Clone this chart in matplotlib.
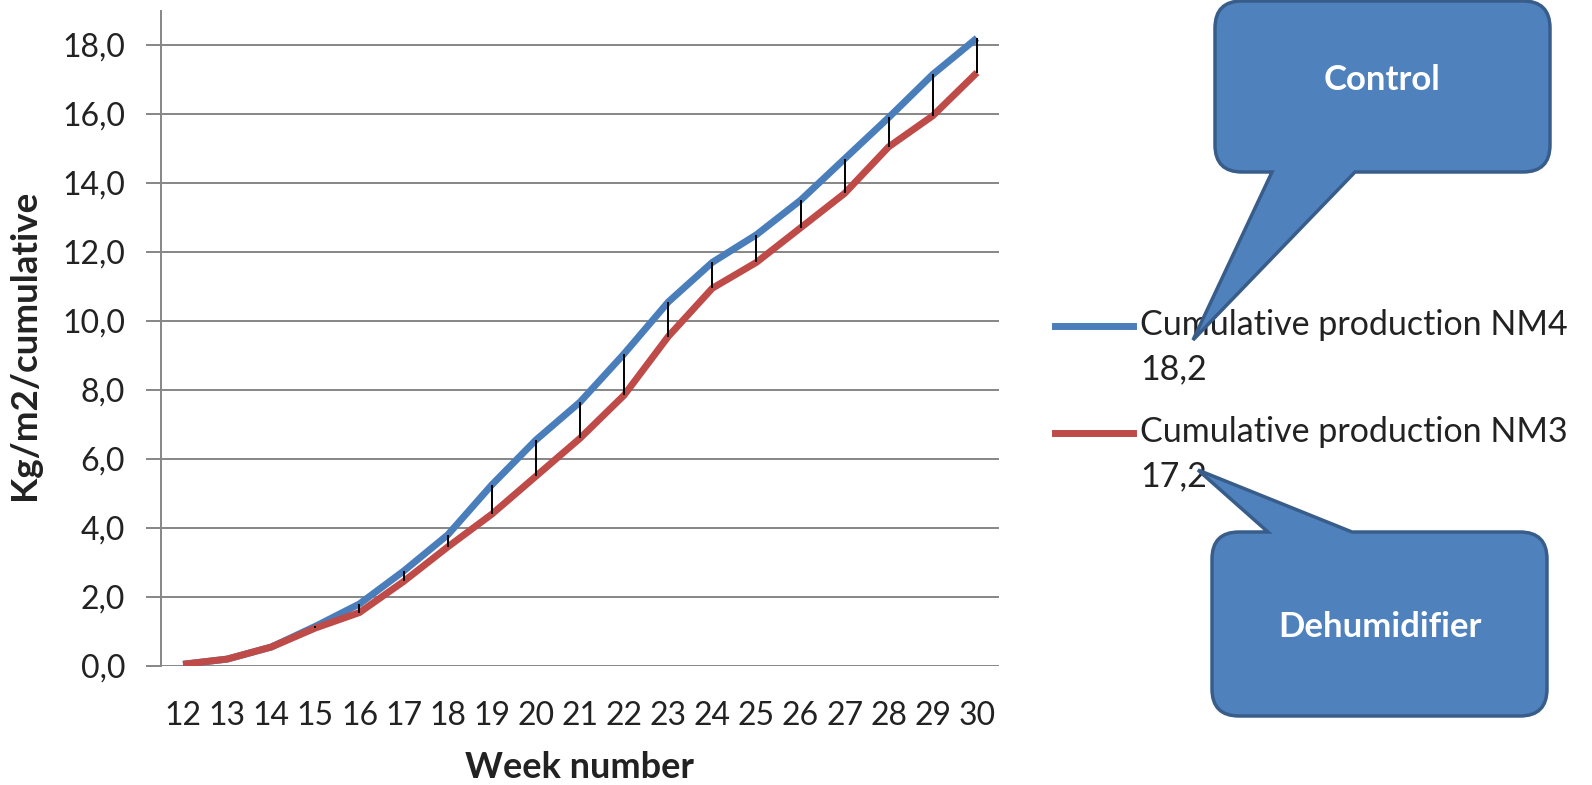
import matplotlib
matplotlib.use("Agg")
import matplotlib.pyplot as plt
from matplotlib.path import Path
from matplotlib.patches import PathPatch
from matplotlib.lines import Line2D
from matplotlib.transforms import Affine2D

weeks = [12, 13, 14, 15, 16, 17, 18, 19, 20, 21, 22, 23, 24, 25, 26, 27, 28, 29, 30]
nm4 = [0.05, 0.2, 0.55, 1.15, 1.8, 2.75, 3.8, 5.25, 6.55, 7.65, 9.05, 10.55,
       11.7, 12.5, 13.5, 14.7, 15.9, 17.15, 18.2]
nm3 = [0.05, 0.2, 0.55, 1.1, 1.55, 2.45, 3.45, 4.4, 5.5, 6.6, 7.85, 9.55,
       10.95, 11.7, 12.7, 13.7, 15.05, 15.95, 17.2]
series_names = ["Cumulative production NM4", "Cumulative production NM3"]
series_colors = ["#4A7EBB", "#BE4B48"]
callout_texts = ["Control", "Dehumidifier"]
y_ticks = [0, 2, 4, 6, 8, 10, 12, 14, 16, 18]

W, H = 1592, 785
plt.rcParams["font.family"] = ["Lato", "DejaVu Sans"]

fig = plt.figure(figsize=(W / 100, H / 100), dpi=100)
# pixel coordinates, y pointing down
px = Affine2D().scale(1 / W, -1 / H).translate(0, 1) + fig.transFigure

ax = fig.add_axes([161 / W, 119 / H, 838 / W, 655.5 / H])
grid_col = "#868686"

ax.plot(weeks, nm4, color=series_colors[0], lw=5, solid_capstyle="butt", zorder=2)
ax.plot(weeks, nm3, color=series_colors[1], lw=5, solid_capstyle="butt", zorder=2)
# high-low lines between the two series
ax.vlines(weeks, nm3, nm4, color="black", lw=1.4, zorder=3)

ax.set_xlim(11.5, 30.5)
ax.set_ylim(0, 19)
ax.set_yticks(y_ticks)
ax.set_yticklabels([f"{v:.1f}".replace(".", ",") for v in y_ticks])
ax.set_xticks(weeks)
ax.set_xticklabels([str(w) for w in weeks])
ax.yaxis.grid(True, color=grid_col, lw=1.4)
ax.set_axisbelow(True)
for s in ["top", "right", "bottom"]:
    ax.spines[s].set_visible(False)
ax.spines["left"].set_color(grid_col)
ax.spines["left"].set_linewidth(1.4)
ax.tick_params(axis="y", length=10.8, width=1.4, color=grid_col, pad=15,
               labelsize=23, labelcolor="#222222")
ax.tick_params(axis="x", length=0, pad=25.5, labelsize=23, labelcolor="#222222")

fig.text(25, 345, "Kg/m2/cumulative", transform=px, rotation=90, ha="center",
         va="center", fontsize=26.5, fontweight="bold", color="#222222")
fig.text(579, 767, "Week number", transform=px, ha="center", va="center",
         fontsize=26, fontweight="bold", color="#222222")

# legend entries with the final total on a second line
totals = [nm4[-1], nm3[-1]]
for i, (name, col, tot) in enumerate(zip(series_names, series_colors, totals)):
    base = 335 + i * 107
    fig.add_artist(Line2D([1055, 1133], [base - 9, base - 9], color=col, lw=5,
                          transform=px))
    fig.text(1140, base, name, transform=px, va="baseline", fontsize=24.5,
             color="#222222")
    fig.text(1140, base + 44, f"{tot:.1f}".replace(".", ","), transform=px,
             va="baseline", fontsize=24.5, color="#222222")


def callout(x0, y0, x1, y1, r, bl, br, tip, side):
    verts = [(x0 + r, y0)]
    codes = [Path.MOVETO]
    if side == "top":
        verts += [(bl, y0), tip, (br, y0)]
        codes += [Path.LINETO] * 3
    verts += [(x1 - r, y0), (x1, y0), (x1, y0 + r), (x1, y1 - r), (x1, y1), (x1 - r, y1)]
    codes += [Path.LINETO, Path.CURVE3, Path.CURVE3, Path.LINETO, Path.CURVE3, Path.CURVE3]
    if side == "bottom":
        verts += [(br, y1), tip, (bl, y1)]
        codes += [Path.LINETO] * 3
    verts += [(x0 + r, y1), (x0, y1), (x0, y1 - r), (x0, y0 + r), (x0, y0), (x0 + r, y0),
              (x0 + r, y0)]
    codes += [Path.LINETO, Path.CURVE3, Path.CURVE3, Path.LINETO, Path.CURVE3, Path.CURVE3,
              Path.CLOSEPOLY]
    patch = PathPatch(Path(verts, codes), transform=px, facecolor="#4F81BD",
                      edgecolor="#385D8A", lw=2.5, joinstyle="miter", zorder=5)
    fig.add_artist(patch)


callout(1215, 1, 1550, 172, 27, 1272, 1355, (1193, 340), "bottom")
fig.text(1382, 80, callout_texts[0], transform=px, ha="center", va="center",
         fontsize=25, fontweight="bold", color="white", zorder=6)
callout(1212, 532, 1547, 716, 27, 1268, 1352, (1198, 470), "top")
fig.text(1380, 627, callout_texts[1], transform=px, ha="center", va="center",
         fontsize=25, fontweight="bold", color="white", zorder=6)

fig.savefig("out.png", dpi=100, facecolor="white")
